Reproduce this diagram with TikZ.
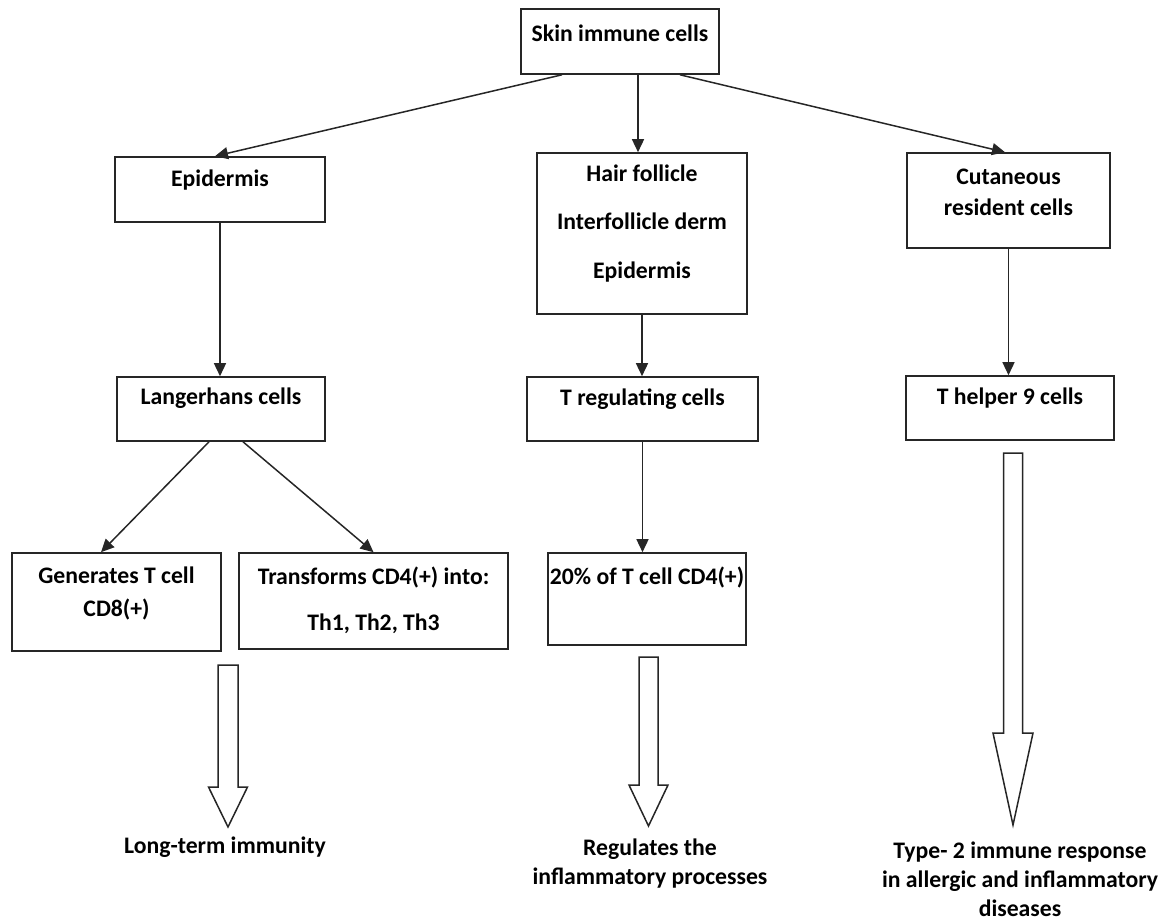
\documentclass[tikz,border=0pt]{standalone}
\usepackage{fontspec}
\setmainfont{Carlito}
\usetikzlibrary{arrows.meta}

\begin{document}
\begin{tikzpicture}[x=1pt, y=-1pt,
  box/.style = {draw=black!85, line width=1.6pt, inner sep=0pt},
  lbl/.style = {font=\fontsize{23.7}{29}\selectfont\bfseries, align=center, inner sep=0pt},
  arr/.style = {draw=black!85, line width=1.5pt, -{Triangle[length=13pt,width=12pt]}},
  fat/.style = {draw=black!85, line width=1.5pt, fill=white, line join=miter}]
\useasboundingbox (0,0) rectangle (1158,920);

\node[box, minimum width=198pt, minimum height=65pt] (skin) at (620,41.5) {};
\node[box, minimum width=210pt, minimum height=65pt] (epi) at (220,189.5) {};
\node[box, minimum width=210pt, minimum height=161pt] (fol) at (642,233.5) {};
\node[box, minimum width=203pt, minimum height=95pt] (cut) at (1008.5,200.5) {};
\node[box, minimum width=208pt, minimum height=64pt] (lang) at (221,409) {};
\node[box, minimum width=231pt, minimum height=64pt] (treg) at (642.5,409) {};
\node[box, minimum width=208pt, minimum height=64pt] (th9) at (1010,408) {};
\node[box, minimum width=209pt, minimum height=98pt] (gen) at (116.5,602) {};
\node[box, minimum width=269pt, minimum height=96pt] (trans) at (373.5,601) {};
\node[box, minimum width=198pt, minimum height=92pt] (pct) at (647,599) {};

\node[lbl] (skint) at (620,33) {Skin immune cells};
\node[lbl] (epit) at (220,180) {Epidermis};
\node[lbl] (folt) at (642,223.5) {Hair follicle\\[19.5pt]Interfollicle derm\\[19.5pt]Epidermis};
\node[lbl] (cutt) at (1008.5,192.5) {Cutaneous\\[2pt]resident cells};
\node[lbl] (langt) at (221,398) {Langerhans cells};
\node[lbl] (tregt) at (642.5,399) {T regulating cells};
\node[lbl] (th9t) at (1010,398) {T helper 9 cells};
\node[lbl] (gent) at (116.5,593.5) {Generates T cell\\[4pt]CD8(+)};
\node[lbl] (transt) at (373.5,600) {Transforms CD4(+) into:\\[17pt]Th1, Th2, Th3};
\node[lbl] (pctt) at (647,577) {20\% of T cell CD4(+)};

\draw[arr] ([xshift=-58pt]skin.south) -- ([xshift=-5pt]epi.north);
\draw[arr] ([xshift=18pt]skin.south) -- ([xshift=-4pt]fol.north);
\draw[arr] ([xshift=60pt]skin.south) -- ([xshift=-3.5pt]cut.north);
\draw[arr] (epi.south) -- (epi.south |- lang.north);
\draw[arr] (fol.south) -- (fol.south |- treg.north);
\draw[arr] (cut.south) -- (cut.south |- th9.north);
\draw[arr] ([xshift=-12pt]lang.south) -- ([xshift=-15.5pt]gen.north);
\draw[arr] ([xshift=22pt]lang.south) -- (trans.north);
\draw[arr] (treg.south) -- (treg.south |- pct.north);

\draw[fat] (218,665) -- (238,665) -- (238,787) -- (247.5,787) -- (228,827) -- (208.5,787) -- (218,787) -- cycle;
\draw[fat] (639,657) -- (658,657) -- (658,785) -- (668,785) -- (648.5,826) -- (629,785) -- (639,785) -- cycle;
\draw[fat] (1003.5,453) -- (1022.5,453) -- (1022.5,733) -- (1033,733) -- (1013,825) -- (993,733) -- (1003.5,733) -- cycle;

\node[lbl] (longt) at (225,847) {Long-term immunity};
\node[lbl] (regt) at (650,863.5) {Regulates the\\inflammatory processes};
\node[lbl] (typet) at (1020,879) {Type- 2 immune response\\in allergic and inflammatory\\diseases};
\end{tikzpicture}
\end{document}
